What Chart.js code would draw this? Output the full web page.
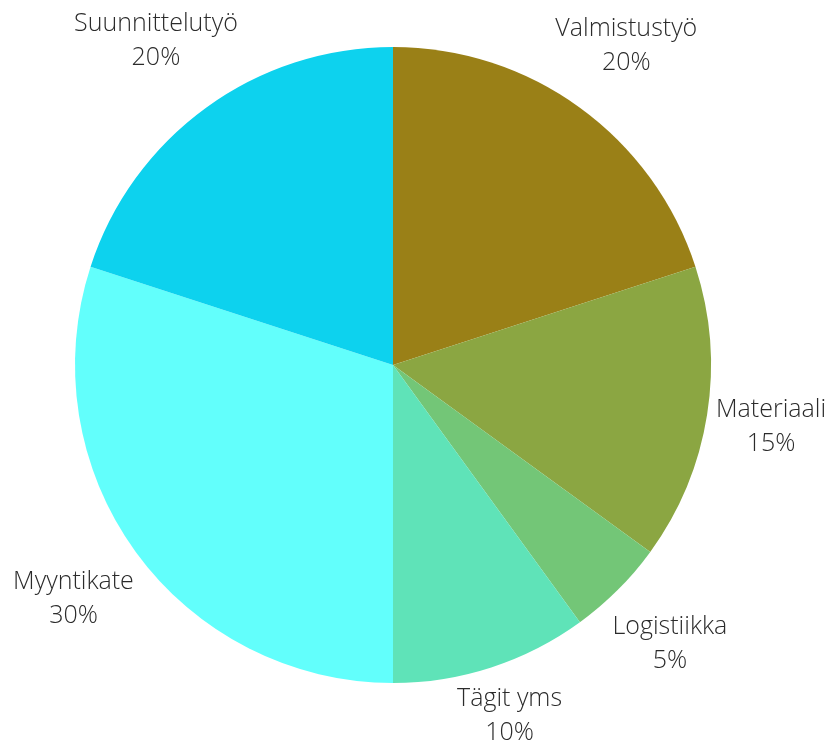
<!DOCTYPE html>
<html>
<head>
<meta charset="utf-8">
<script src="https://cdn.jsdelivr.net/npm/chart.js@4"></script>
<style>
  html, body { margin: 0; padding: 0; background: #fff; }
</style>
</head>
<body>
<canvas id="Pie_Cost_Breakdown" width="832" height="744"></canvas>
<script>
var labels = ['Valmistustyö', 'Materiaali', 'Logistiikka', 'Tägit yms', 'Myyntikate', 'Suunnittelutyö'];
var values = [20, 15, 5, 10, 30, 20];
var colors = ['#9A8017', '#8BA642', '#73C677', '#5FE3B8', '#62FFFC', '#0DD2EE'];

var labelFont = '300 25px "Open Sans"';
var lineHeight = 34;

// draws "name / xx%" outside each slice, pushed out along the slice's middle angle
var outsideLabels = {
  id: 'outsideLabels',
  afterDatasetsDraw: function (chart) {
    var ctx = chart.ctx;
    var meta = chart.getDatasetMeta(0);
    var total = values.reduce(function (a, b) { return a + b; }, 0);
    ctx.save();
    ctx.font = labelFont;
    ctx.fillStyle = '#2b2b2b';
    ctx.textAlign = 'center';
    ctx.textBaseline = 'middle';
    meta.data.forEach(function (arc, i) {
      var mid = (arc.startAngle + arc.endAngle) / 2;
      var ux = Math.cos(mid), uy = Math.sin(mid);
      var lines = [labels[i], Math.round(values[i] / total * 100) + '%'];
      var w = Math.max(ctx.measureText(lines[0]).width, ctx.measureText(lines[1]).width);
      var d = arc.outerRadius + 4 + Math.abs(w / 2 * ux) + Math.abs(41 * uy);
      var cx = arc.x + d * ux, cy = arc.y + d * uy;
      // keep the label inside the canvas
      cy = Math.min(cy, chart.height - 30);
      cy = Math.max(cy, 30);
      ctx.fillText(lines[0], cx, cy - lineHeight / 2 + 2);
      ctx.fillText(lines[1], cx, cy + lineHeight / 2 + 2);
    });
    ctx.restore();
  }
};

var pie_cost_breakdown = document.getElementById('Pie_Cost_Breakdown').getContext('2d');

new Chart(pie_cost_breakdown, {
  type: 'pie',
  data: {
    labels: labels,
    datasets: [{
      data: values,
      backgroundColor: colors,
      borderWidth: 0
    }]
  },
  options: {
    responsive: false,
    animation: false,
    layout: {
      padding: { left: 75, right: 121, top: 47, bottom: 61 }
    },
    plugins: {
      legend: { display: false },
      tooltip: { enabled: false }
    }
  },
  plugins: [outsideLabels]
});
</script>
</body>
</html>
